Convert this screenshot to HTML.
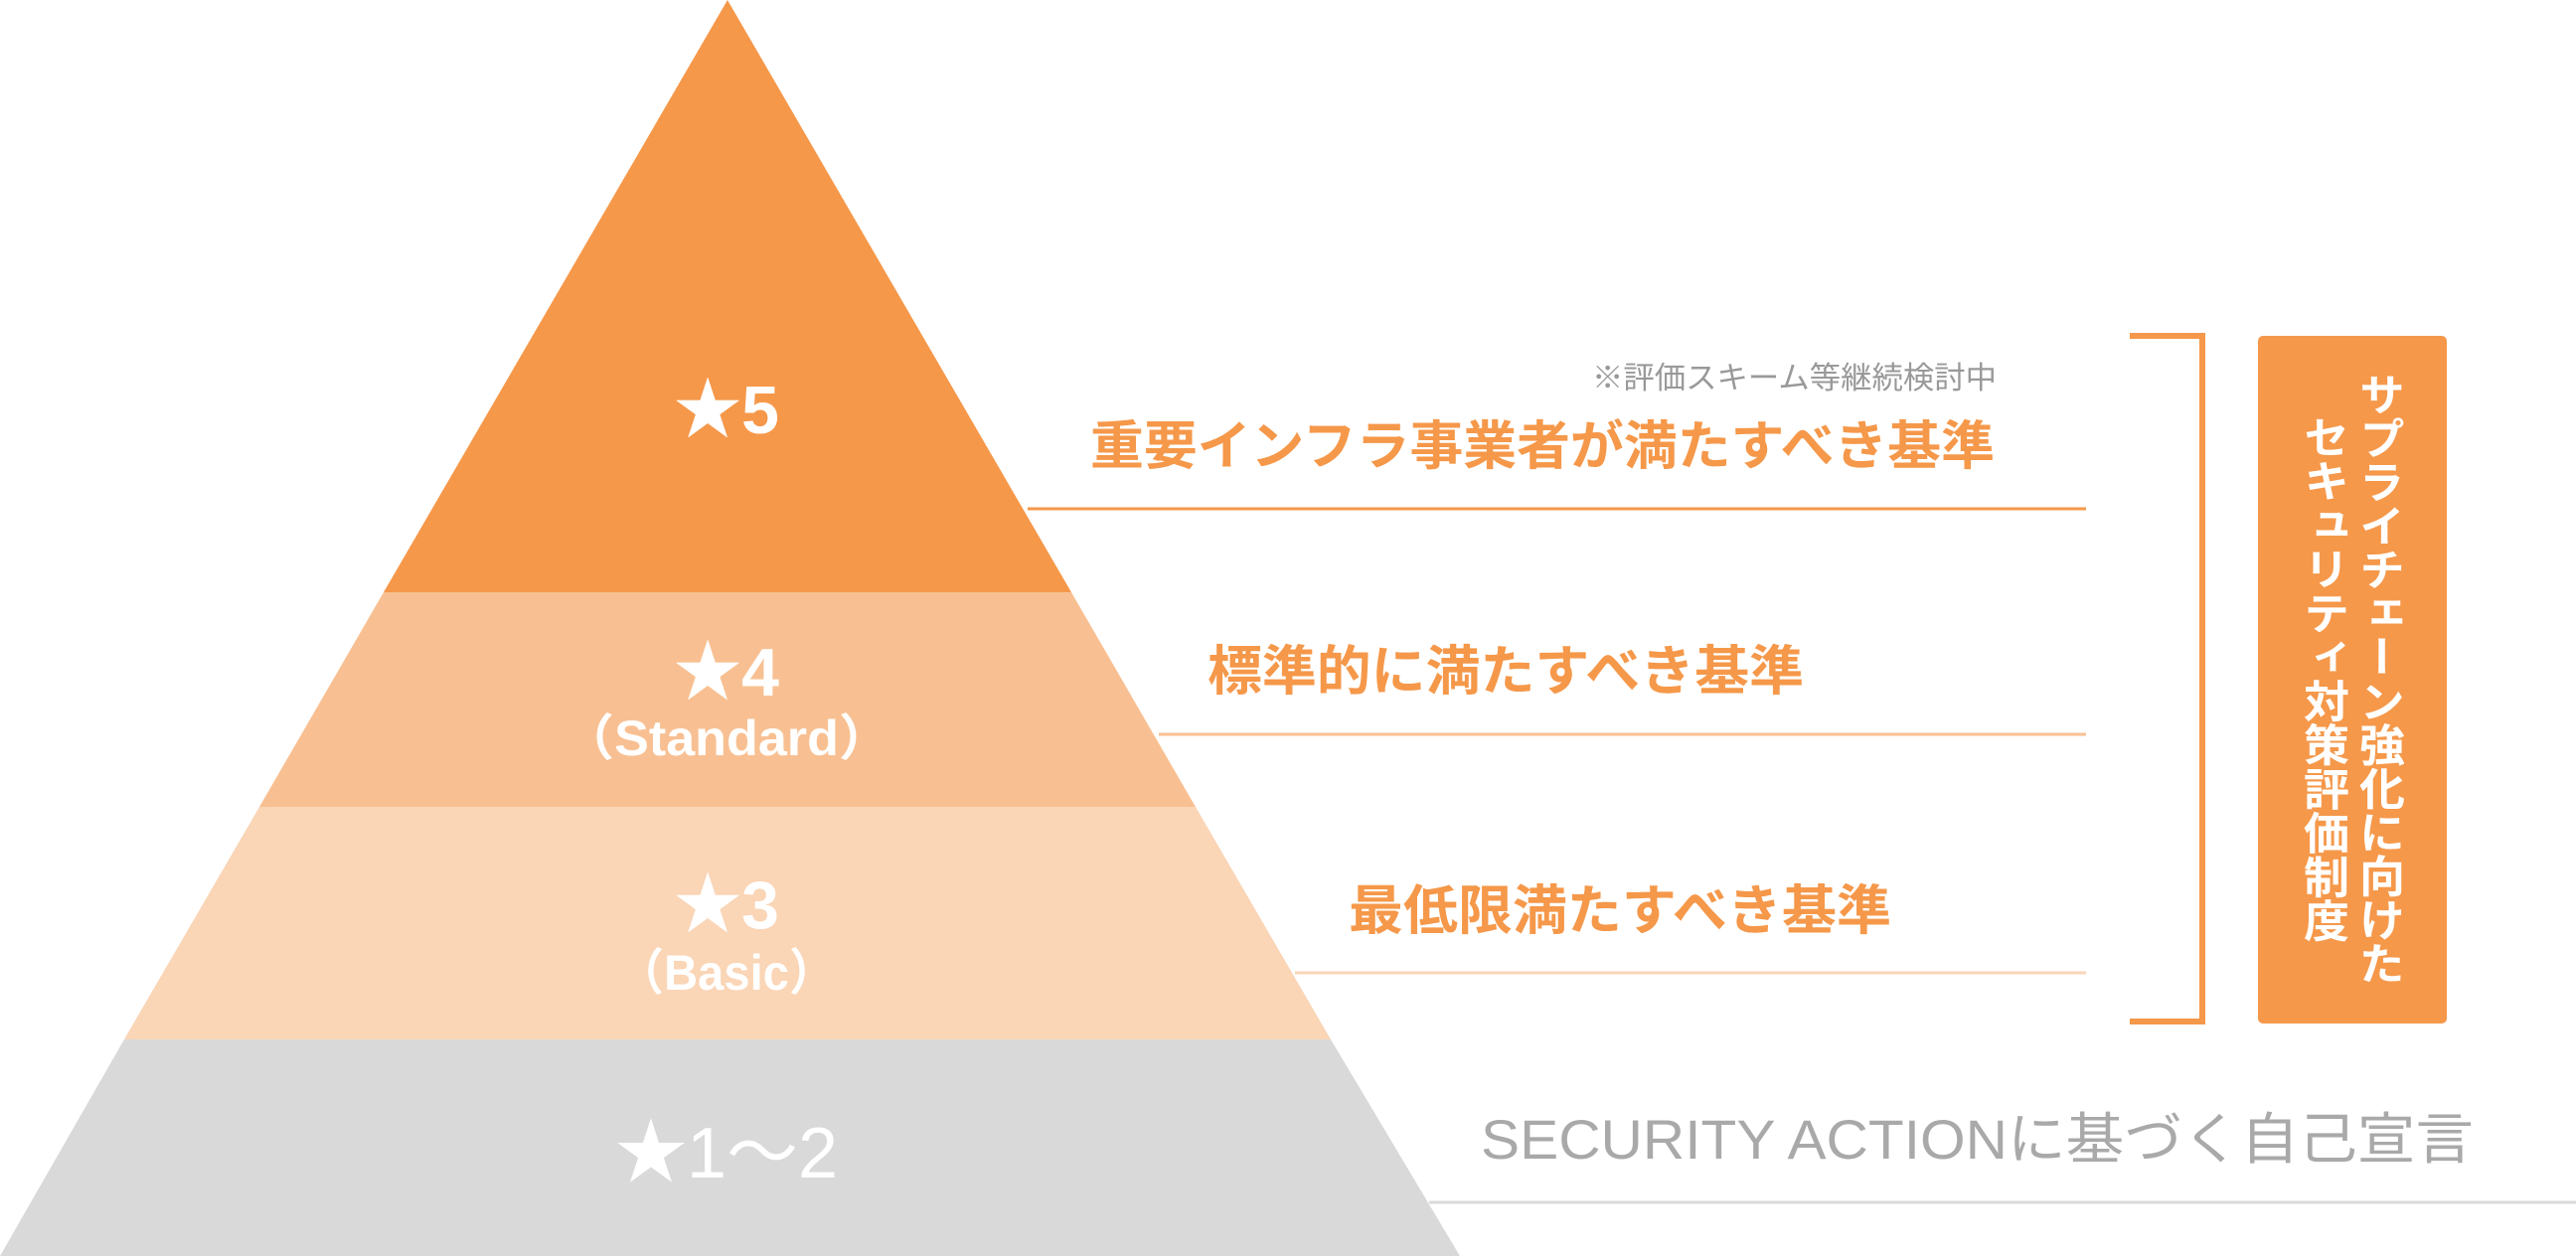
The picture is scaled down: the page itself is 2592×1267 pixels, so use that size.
<!DOCTYPE html>
<html><head><meta charset="utf-8"><style>
html,body{margin:0;padding:0;background:#fff;}
svg{display:block;}
text{font-family:"Liberation Sans","Noto Sans CJK JP",sans-serif;}
</style></head><body>
<svg width="2592" height="1267" viewBox="0 0 2592 1267" xmlns="http://www.w3.org/2000/svg">
<polygon points="732,0 1078,596 386,596" fill="#f5984a"/>
<polygon points="386,596 1078,596 1203,812 261,812" fill="#f8c092"/>
<polygon points="261,812 1203,812 1339,1046 125,1046" fill="#fad5b6"/>
<polygon points="125,1046 1339,1046 1469,1264 0,1264" fill="#d9d9d9"/>

<g fill="#fff" text-anchor="middle" font-weight="bold">
<text x="731" y="436" font-size="68">★5</text>
<text x="731" y="700" font-size="68">★4</text>
<text x="731" y="760" font-size="50" textLength="330" lengthAdjust="spacingAndGlyphs">（Standard）</text>
<text x="731" y="996" font-size="50" textLength="220" lengthAdjust="spacingAndGlyphs">（Basic）</text>
<text x="731" y="934" font-size="68">★3</text>
<text x="731" y="1185" font-size="72" font-weight="normal">★1～2</text>
</g>

<line x1="1034" y1="512" x2="2099" y2="512" stroke="#f5984a" stroke-width="3"/>
<line x1="1166" y1="739" x2="2099" y2="739" stroke="#f8c092" stroke-width="3"/>
<line x1="1303" y1="979" x2="2099" y2="979" stroke="#fad5b6" stroke-width="3"/>
<line x1="1438" y1="1210" x2="2592" y2="1210" stroke="#d9d9d9" stroke-width="3"/>

<text x="1602" y="391" font-size="31" fill="#999" textLength="407" lengthAdjust="spacingAndGlyphs">※評価スキーム等継続検討中</text>
<g fill="#f5984a" font-weight="bold">
<text x="1097" y="467" font-size="53" textLength="910" lengthAdjust="spacingAndGlyphs">重要インフラ事業者が満たすべき基準</text>
<text x="1215" y="694" font-size="54" textLength="600" lengthAdjust="spacingAndGlyphs">標準的に満たすべき基準</text>
<text x="1357" y="935" font-size="54" textLength="546" lengthAdjust="spacingAndGlyphs">最低限満たすべき基準</text>
</g>
<text x="1490" y="1166" font-size="56" fill="#a9a9a9" textLength="999" lengthAdjust="spacingAndGlyphs">SECURITY ACTIONに基づく自己宣言</text>

<polyline points="2143,338 2216,338 2216,1028 2143,1028" fill="none" stroke="#f5984a" stroke-width="6"/>
<rect x="2272" y="338" width="190" height="692" rx="5" fill="#f5984a"/>
<g fill="#fff" font-size="46" font-weight="bold" text-anchor="middle">
<text transform="translate(2394,683)" style="writing-mode:vertical-rl" textLength="617" lengthAdjust="spacingAndGlyphs">サプライチェーン強化に向けた</text>
<text transform="translate(2338,683)" style="writing-mode:vertical-rl" textLength="531" lengthAdjust="spacingAndGlyphs">セキュリティ対策評価制度</text>
</g>
</svg>
</body></html>
